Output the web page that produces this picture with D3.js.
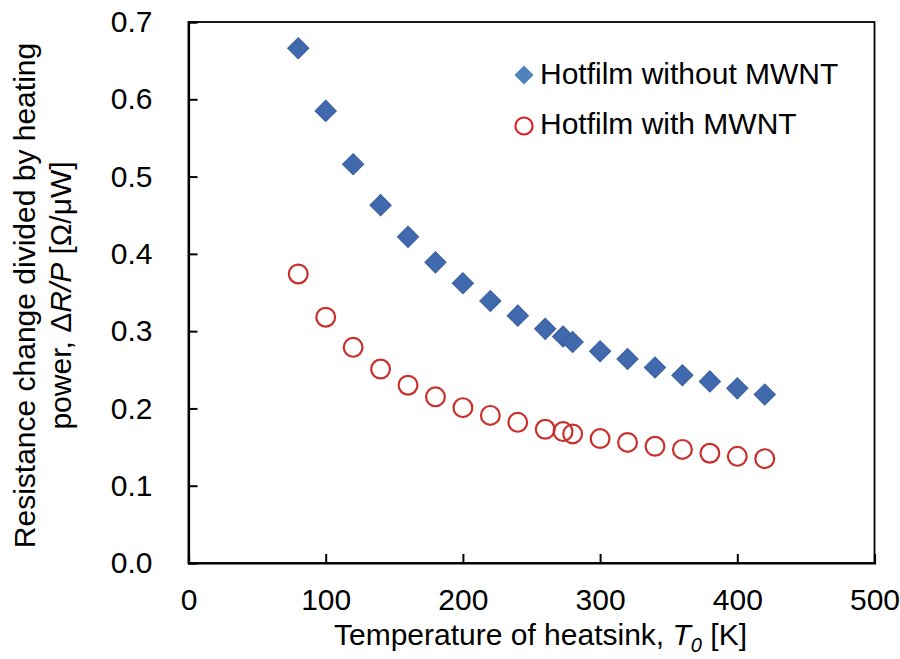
<!DOCTYPE html>
<html lang="en">

<head>
  <meta charset="UTF-8">
  <title>Resistance change vs heatsink temperature</title>
  <script src="https://d3js.org/d3.v7.min.js"></script>
  <style>
    body {
      margin: 0;
      background: #fff;
      font-family: "Liberation Sans", Arial, sans-serif;
    }

    .tick text {
      font-size: 30px;
      fill: #000;
    }

    .label {
      font-size: 30px;
      fill: #000;
    }
  </style>
</head>

<body>
  <div id="chart"></div>

  <script>
    // Heatsink temperature T0 [K]
    const temps = [80, 100, 120, 140, 160, 180, 200, 220, 240, 260, 273, 280, 300, 320, 340, 360, 380, 400, 420];
    // dR/P [ohm/uW]
    const withoutMWNT = [0.666, 0.585, 0.516, 0.463, 0.422, 0.389, 0.362, 0.339, 0.320, 0.303, 0.293, 0.286,
      0.274, 0.264, 0.253, 0.243, 0.235, 0.226, 0.218];
    const withMWNT = [0.374, 0.318, 0.279, 0.251, 0.230, 0.215, 0.201, 0.191, 0.182, 0.173, 0.170, 0.167,
      0.161, 0.156, 0.151, 0.147, 0.142, 0.138, 0.135];

    const xTicks = [0, 100, 200, 300, 400, 500];
    const yTicks = [0, 0.1, 0.2, 0.3, 0.4, 0.5, 0.6, 0.7];
    const seriesNames = ["Hotfilm without MWNT", "Hotfilm with MWNT"];

    const margin = { top: 22, right: 25.5, bottom: 96, left: 188.5 };
    const width = 900 - margin.left - margin.right;
    const height = 659 - margin.top - margin.bottom;

    const svg = d3.select("#chart").append("svg")
      .attr("width", 900)
      .attr("height", 659)
      .append("g")
      .attr("transform", `translate(${margin.left},${margin.top})`);

    const x = d3.scaleLinear().domain([0, 500]).range([0, width]);
    const y = d3.scaleLinear().domain([0, 0.7]).range([height, 0]);

    // frame
    svg.append("rect")
      .attr("width", width)
      .attr("height", height)
      .attr("fill", "none")
      .attr("stroke", "#000")
      .attr("stroke-width", 1.8);

    const xAxis = svg.append("g")
      .attr("transform", `translate(0,${height})`)
      .call(d3.axisBottom(x).tickValues(xTicks).tickSize(-9).tickPadding(26).tickFormat(d3.format("d")));

    const yAxis = svg.append("g")
      .call(d3.axisLeft(y).tickValues(yTicks).tickSize(-9).tickPadding(36).tickFormat(d3.format(".1f")));

    [xAxis, yAxis].forEach(a => {
      a.select(".domain").attr("stroke", "#000").attr("stroke-width", 2.2);
      a.selectAll(".tick line").attr("stroke", "#000").attr("stroke-width", 2);
      a.selectAll(".tick text").attr("font-family", null).attr("font-size", null);
    });

    const diamond = d3.symbol().type(d3.symbolSquare).size(225);
    const ptsWithout = temps.map((t, i) => ({ t, v: withoutMWNT[i] }));
    const ptsWith = temps.map((t, i) => ({ t, v: withMWNT[i] }));

    svg.selectAll(".diamond")
      .data(ptsWithout)
      .enter().append("path")
      .attr("class", "diamond")
      .attr("d", diamond)
      .attr("transform", d => `translate(${x(d.t)},${y(d.v)}) rotate(45)`)
      .attr("fill", "#4169AE")
      .attr("stroke", "#3A5E9E")
      .attr("stroke-width", 1);

    svg.selectAll(".ring")
      .data(ptsWith)
      .enter().append("circle")
      .attr("class", "ring")
      .attr("cx", d => x(d.t))
      .attr("cy", d => y(d.v))
      .attr("r", 9.4)
      .attr("fill", "none")
      .attr("stroke", "#C9302C")
      .attr("stroke-width", 2.2);

    // legend
    const legend = svg.append("g").attr("transform", "translate(335.5,0)");
    legend.append("path")
      .attr("d", d3.symbol().type(d3.symbolSquare).size(180))
      .attr("transform", "translate(0,53) rotate(45)")
      .attr("fill", "#4F81BD");
    legend.append("circle")
      .attr("cx", 0)
      .attr("cy", 104)
      .attr("r", 8.6)
      .attr("fill", "none")
      .attr("stroke", "#E3161C")
      .attr("stroke-width", 2);
    legend.selectAll(".legtext")
      .data(seriesNames)
      .enter().append("text")
      .attr("class", "label")
      .attr("x", 16)
      .attr("y", (d, i) => 62 + i * 50)
      .text(d => d);

    // x title
    const xt = svg.append("text")
      .attr("class", "label")
      .attr("x", width / 2 + 9)
      .attr("y", height + 82)
      .attr("text-anchor", "middle");
    xt.append("tspan").text("Temperature of heatsink, ");
    xt.append("tspan").attr("font-style", "italic").text("T");
    xt.append("tspan").attr("font-style", "italic").attr("font-size", "20px").attr("dy", 7).text("0");
    xt.append("tspan").attr("dy", -7).text(" [K]");

    // y title
    svg.append("text")
      .attr("class", "label")
      .attr("transform", `translate(${35 - margin.left},${height / 2 + 3}) rotate(-90)`)
      .attr("text-anchor", "middle")
      .text("Resistance change divided by heating");

    const yt = svg.append("text")
      .attr("class", "label")
      .attr("transform", `translate(${71 - margin.left},${height / 2 + 3}) rotate(-90)`)
      .attr("text-anchor", "middle");
    yt.append("tspan").text("power, Δ");
    yt.append("tspan").attr("font-style", "italic").text("R/P");
    yt.append("tspan").text(" [Ω/μW]");
  </script>
</body>

</html>
